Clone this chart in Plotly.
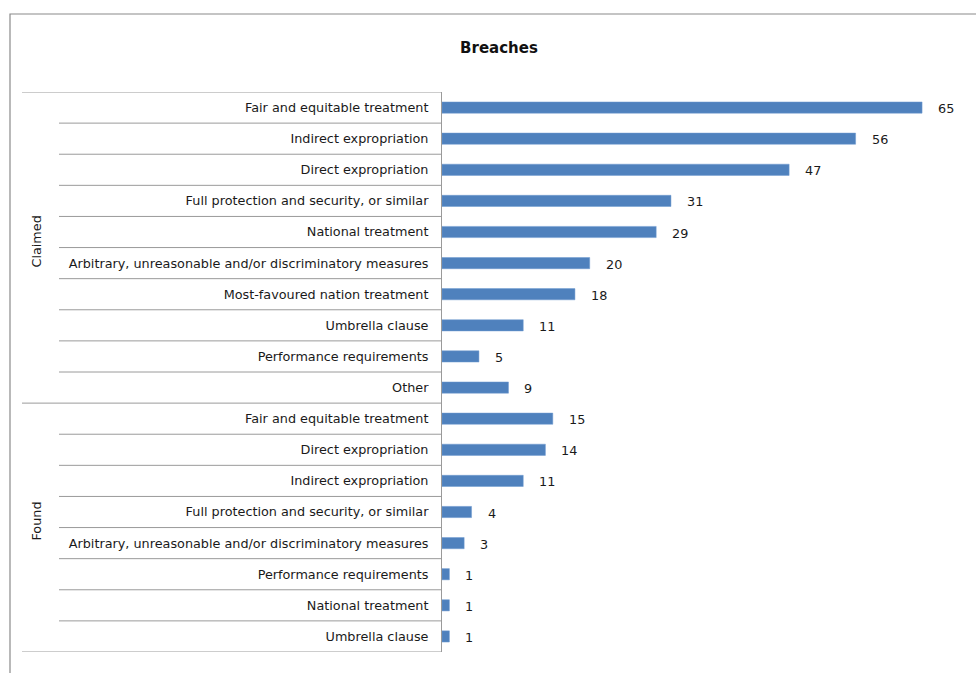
import plotly.graph_objects as go

# ---- data ----
groups = ["Claimed", "Found"]
claimed_labels = [
    "Fair and equitable treatment",
    "Indirect expropriation",
    "Direct expropriation",
    "Full protection and security, or similar",
    "National treatment",
    "Arbitrary, unreasonable and/or discriminatory measures",
    "Most-favoured nation treatment",
    "Umbrella clause",
    "Performance requirements",
    "Other",
]
claimed_values = [65, 56, 47, 31, 29, 20, 18, 11, 5, 9]
found_labels = [
    "Fair and equitable treatment",
    "Direct expropriation",
    "Indirect expropriation",
    "Full protection and security, or similar",
    "Arbitrary, unreasonable and/or discriminatory measures",
    "Performance requirements",
    "National treatment",
    "Umbrella clause",
]
found_values = [15, 14, 11, 4, 3, 1, 1, 1]

labels = claimed_labels + found_labels
values = claimed_values + found_values
pos = list(range(len(labels)))

W, H = 976, 673
ml, mr, mt, mb = 442, 17, 92, 21
pw = W - ml - mr
ph = H - mt - mb

FONT = "DejaVu Sans"
BLUE = "#4F81BD"
GRID = "#9a9a9a"
TXT = "#1a1a1a"
FS = 12.8

fig = go.Figure()
fig.add_trace(go.Bar(
    x=values, y=pos, orientation="h",
    marker=dict(color=BLUE, line=dict(color="#6f9ad0", width=0.5)),
    width=0.36, hoverinfo="x+y",
))

# value labels
for v, p in zip(values, pos):
    fig.add_annotation(x=v, y=p, xref="x", yref="y", text=str(v),
                       showarrow=False, xanchor="left", xshift=14, yshift=-1,
                       font=dict(family=FONT, size=FS, color=TXT))

def px_to_paper_x(px):
    return (px - ml) / pw

def px_to_paper_y(py):
    return (H - mb - py) / ph

shapes = []
n_claimed = len(claimed_labels)
n = len(labels)
# row separators within the groups
for b in range(1, n):
    if b == n_claimed:
        continue
    shapes.append(dict(type="line", xref="paper", yref="y",
                       x0=px_to_paper_x(59), x1=0, y0=b - 0.5, y1=b - 0.5,
                       line=dict(color=GRID, width=1)))
# group separators
for b in [0, n_claimed, n]:
    shapes.append(dict(type="line", xref="paper", yref="y",
                       x0=px_to_paper_x(22), x1=0, y0=b - 0.5, y1=b - 0.5,
                       line=dict(color=GRID, width=1)))
# chart frame
shapes.append(dict(type="rect", xref="paper", yref="paper",
                   x0=px_to_paper_x(10), x1=px_to_paper_x(1100),
                   y0=px_to_paper_y(14), y1=px_to_paper_y(720),
                   line=dict(color="#8a8a8a", width=1.2), fillcolor="rgba(0,0,0,0)"))

# group labels
group_spans = [(0, n_claimed - 1), (n_claimed, n - 1)]
for g, (a, b) in zip(groups, group_spans):
    fig.add_annotation(x=px_to_paper_x(37), y=(a + b) / 2, xref="paper", yref="y",
                       text=g, showarrow=False, textangle=-90, xanchor="center",
                       yshift=6,
                       font=dict(family=FONT, size=FS, color=TXT))

fig.update_layout(
    width=W, height=H,
    margin=dict(l=ml, r=mr, t=mt, b=mb),
    paper_bgcolor="white", plot_bgcolor="white",
    showlegend=False,
    shapes=shapes,
    title=dict(text="<b>Breaches</b>", x=(499) / W, xanchor="center",
               y=1 - 48 / H, yanchor="middle",
               font=dict(family=FONT, size=15, color="#111")),
    xaxis=dict(range=[0, 70], visible=False, fixedrange=True),
    yaxis=dict(range=[n - 0.5, -0.5], tickmode="array", tickvals=pos, ticktext=labels,
               showline=True, linecolor=GRID, linewidth=1, showgrid=False, zeroline=False,
               ticks="", ticklabelstandoff=10,
               tickfont=dict(family=FONT, size=FS, color=TXT)),
)

fig.write_html("out.html")
